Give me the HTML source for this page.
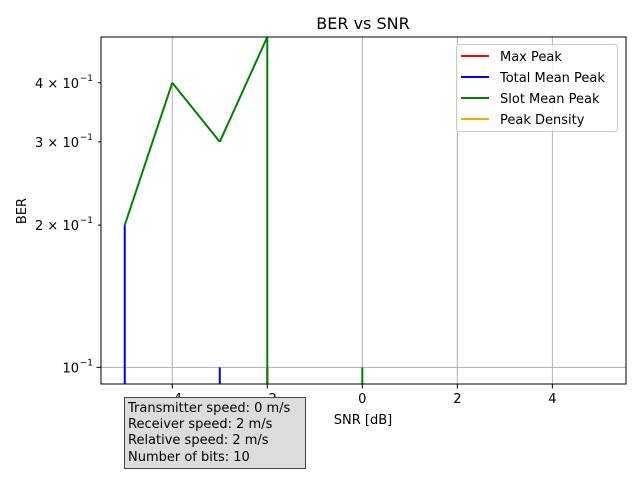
<!DOCTYPE html>
<html><head><meta charset="utf-8"><style>
body{margin:0;background:#fff;}
svg text{font-family:"DejaVu Sans","Liberation Sans",sans-serif;}
</style></head><body>
<svg id="chart" width="640" height="480" xmlns="http://www.w3.org/2000/svg">
<rect width="640" height="480" fill="#fff"/>
<g id="grid"></g>
<g id="series"></g>
<rect x="101" y="37" width="525" height="347" fill="none" stroke="#000" stroke-width="1"/>
<g id="axes"></g>
<text x="363" y="29" font-size="16" text-anchor="middle">BER vs SNR</text>
<text x="363" y="424" font-size="13" text-anchor="middle">SNR [dB]</text>
<text x="26" y="211" font-size="13" text-anchor="middle" transform="rotate(-90 26 211)">BER</text>
<g>
<rect x="456.5" y="44.5" width="161" height="87" rx="3" fill="#fff" fill-opacity="0.8" stroke="#ccc"/>
<g id="legend-items"></g>
</g>
<g>
<rect x="124.5" y="397.5" width="181" height="71" fill="#dcdcdc" stroke="#444"/>
<text x="128" y="412" font-size="13">Transmitter speed: 0 m/s</text>
<text x="128" y="428" font-size="13">Receiver speed: 2 m/s</text>
<text x="128" y="444" font-size="13">Relative speed: 2 m/s</text>
<text x="128" y="461" font-size="13">Number of bits: 10</text>
</g>
</svg>
<script>
const snr=[-5,-4,-3,-2,-1,0,1,2,3,4,5];
const maxPeak=[0,0,0,0.1,0,0,0,0,0,0,0];
const totalMeanPeak=[0.2,0,0.1,0,0,0,0,0,0,0,0];
const slotMeanPeak=[0.2,0.4,0.3,0.5,0,0.1,0,0,0,0,0];
const peakDensity=[0,0,0,0,0,0,0,0,0,0,0];
const xTicks=[-4,-2,0,2,4];
const yTicks=[0.1,0.2,0.3,0.4];
const yTickLabels=["10","2 \u00d7 10","3 \u00d7 10","4 \u00d7 10"];
const seriesNames=["Max Peak","Total Mean Peak","Slot Mean Peak","Peak Density"];
const colors=["red","blue","green","orange"];
const L=101,R=626,T=37,B=384,xmin=-5.5,xmax=5.55,ymin=0.0922,ymax=0.5;
const ns="http://www.w3.org/2000/svg";
function X(v){return L+(v-xmin)/(xmax-xmin)*(R-L);}
function Y(v){return B-(Math.log10(v)-Math.log10(ymin))/(Math.log10(ymax)-Math.log10(ymin))*(B-T);}
function mk(t,a,p){const e=document.createElementNS(ns,t);for(const k in a)e.setAttribute(k,a[k]);p.appendChild(e);return e;}
const grid=document.getElementById('grid'),axes=document.getElementById('axes');
xTicks.forEach(v=>{const x=X(v);
 const g=mk('line',{x1:x,x2:x,y1:T,y2:B,stroke:'#b0b0b0','stroke-width':1},grid);
 
 mk('line',{x1:x,x2:x,y1:B,y2:B+4.5,stroke:'#000'},axes);
 const t=mk('text',{x:x,y:B+19,'font-size':13,'text-anchor':'middle'},axes);
 t.textContent=(v<0?'\u2212'+(-v):v);
 });
yTicks.forEach((v,i)=>{const y=Y(v);
 if(i===0){const g=mk('line',{x1:L,x2:R,y1:y,y2:y,stroke:'#b0b0b0','stroke-width':1},grid);
 }
 mk('line',{x1:L-(i===0?4.5:3),x2:L,y1:y,y2:y,stroke:'#000'},axes);
 const t=mk('text',{x:L-22,y:y+5,'font-size':13,'text-anchor':'end'},axes);
 t.textContent=yTickLabels[i];
 
 const s=mk('text',{x:L-8,y:y-2,'font-size':9,'text-anchor':'end'},axes);
 s.textContent='\u22121';});
const sg=document.getElementById('series');
[maxPeak,totalMeanPeak,slotMeanPeak,peakDensity].forEach((arr,si)=>{
 let d='';
 for(let i=0;i<arr.length-1;i++){const a=arr[i],b=arr[i+1];
  if(a>0&&b>0)d+=`M${X(snr[i])},${Y(a)}L${X(snr[i+1])},${Y(b)}`;
  else if(a>0)d+=`M${X(snr[i])},${Y(a)}L${X(snr[i])},${B}`;
  else if(b>0)d+=`M${X(snr[i+1])},${B}L${X(snr[i+1])},${Y(b)}`;}
 if(d){const p=mk('path',{d:d,fill:'none',stroke:colors[si],'stroke-width':2,'stroke-linejoin':'round'},sg);
 
 }});
const li=document.getElementById('legend-items');
seriesNames.forEach((n,i)=>{const y=56+i*21;
 mk('line',{x1:461,x2:489,y1:y,y2:y,stroke:colors[i],'stroke-width':2},li);
 const t=mk('text',{x:500,y:y+5,'font-size':13},li);t.textContent=n;
 });
</script>
</body></html>
